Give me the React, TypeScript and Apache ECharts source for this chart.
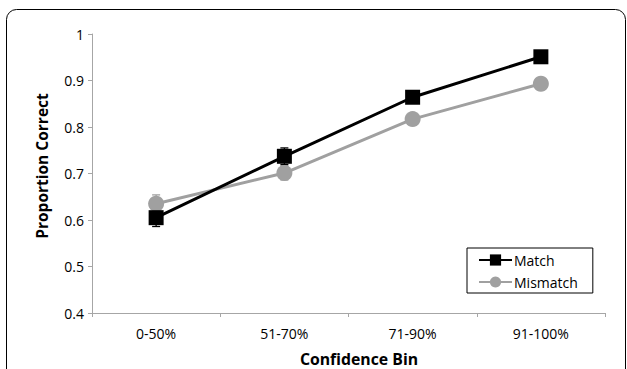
import React, { useEffect, useRef } from "react";
import * as echarts from "echarts";

const categories = ["0-50%", "51-70%", "71-90%", "91-100%"];
const matchValues = [0.605, 0.737, 0.864, 0.951];
const mismatchValues = [0.635, 0.701, 0.817, 0.893];
const matchErr = [0.019, 0.018, 0.012, 0.01];
const mismatchErr = [0.019, 0.015, 0.012, 0.01];
const yTicks = { min: 0.4, max: 1, interval: 0.1 };

const FONT = "Open Sans";

function errData(vals: number[], errs: number[]) {
  return vals.map((v, i) => [i, v - errs[i], v + errs[i]]);
}

function errSeries(name: string, vals: number[], errs: number[], color: string) {
  return {
    type: "custom",
    name: name + "_err",
    z: 1,
    silent: true,
    data: errData(vals, errs),
    renderItem: (params: any, api: any) => {
      const x = api.value(0);
      const lo = api.coord([x, api.value(1)]);
      const hi = api.coord([x, api.value(2)]);
      const w = 4;
      const style = { stroke: color, lineWidth: 1.3 };
      return {
        type: "group",
        children: [
          { type: "line", shape: { x1: lo[0], y1: lo[1], x2: hi[0], y2: hi[1] }, style },
          { type: "line", shape: { x1: lo[0] - w, y1: lo[1], x2: lo[0] + w, y2: lo[1] }, style },
          { type: "line", shape: { x1: hi[0] - w, y1: hi[1], x2: hi[0] + w, y2: hi[1] }, style },
        ],
      };
    },
  };
}

export default function App() {
  const ref = useRef<HTMLDivElement>(null);
  useEffect(() => {
    if (!ref.current) return;
    const chart = echarts.init(ref.current, undefined, { renderer: "svg" });
    chart.setOption({
      animation: false,
      textStyle: { fontFamily: FONT },
      grid: { left: 92, right: 22, top: 34, bottom: 56 },
      xAxis: {
        type: "category",
        data: categories,
        boundaryGap: true,
        axisLine: { lineStyle: { color: "#a6a6a6", width: 1 } },
        axisTick: { show: true, length: 4, lineStyle: { color: "#a6a6a6" } },
        axisLabel: { color: "#000", fontSize: 14, fontFamily: FONT, margin: 13 },
      },
      yAxis: {
        type: "value",
        min: yTicks.min,
        max: yTicks.max,
        interval: yTicks.interval,
        splitLine: { show: false },
        axisLine: { show: true, lineStyle: { color: "#a6a6a6", width: 1 } },
        axisTick: { show: true, length: 4, lineStyle: { color: "#a6a6a6" } },
        axisLabel: { color: "#000", fontSize: 14, fontFamily: FONT, margin: 8 },
      },
      legend: {
        orient: "vertical",
        left: 467,
        top: 248,
        data: ["Match", "Mismatch"],
        borderColor: "#000",
        borderWidth: 1,
        padding: [5, 15, 4, 11],
        itemWidth: 33,
        itemHeight: 14,
        itemGap: 8,
        textStyle: { color: "#000", fontSize: 14, fontFamily: FONT, padding: [0, 0, 0, -3] },
      },
      graphic: [
        {
          type: "rect",
          shape: { x: 6.5, y: 9.5, width: 619, height: 400, r: 10 },
          style: { fill: "none", stroke: "#000", lineWidth: 1 },
          silent: true,
        },
        {
          type: "text",
          x: 42,
          y: 166,
          rotation: Math.PI / 2,
          style: {
            text: "Proportion Correct",
            fontFamily: FONT,
            fontWeight: "bold",
            fontSize: 15.5,
            fill: "#000",
            align: "center",
            verticalAlign: "middle",
          },
        },
        {
          type: "text",
          x: 359,
          y: 359,
          style: {
            text: "Confidence Bin",
            fontFamily: FONT,
            fontWeight: "bold",
            fontSize: 15.8,
            fill: "#000",
            align: "center",
            verticalAlign: "middle",
          },
        },
      ],
      series: [
        errSeries("Mismatch", mismatchValues, mismatchErr, "#a0a0a0"),
        errSeries("Match", matchValues, matchErr, "#000"),
        {
          type: "line",
          name: "Mismatch",
          data: mismatchValues,
          z: 2,
          symbol: "circle",
          symbolSize: 16,
          lineStyle: { color: "#a0a0a0", width: 3 },
          itemStyle: { color: "#a0a0a0" },
        },
        {
          type: "line",
          name: "Match",
          data: matchValues,
          z: 3,
          symbol: "rect",
          symbolSize: 15,
          lineStyle: { color: "#000", width: 3 },
          itemStyle: { color: "#000" },
        },
      ],
    });
    return () => chart.dispose();
  }, []);
  return (
    <div
      ref={ref}
      style={{ position: "fixed", left: 0, top: 0, width: 627, height: 369, background: "#fff" }}
    />
  );
}
